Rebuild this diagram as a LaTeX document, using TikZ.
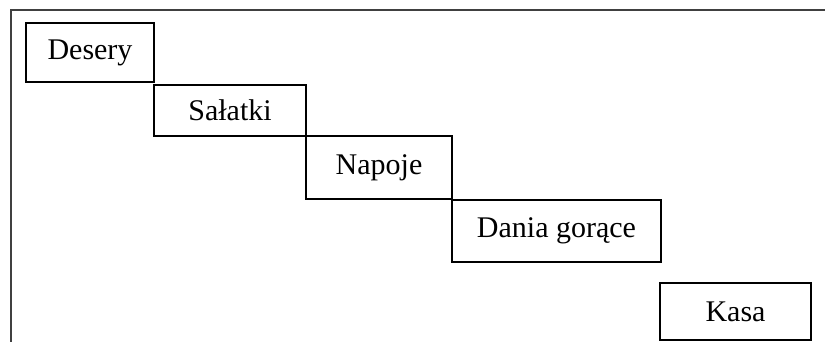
\documentclass[tikz,border=0pt]{standalone}
\usepackage{fontspec}
\setmainfont{Liberation Serif}
\begin{document}
\begin{tikzpicture}[x=1pt,y=-1pt,
  stage/.style={draw=black, line width=2pt, inner sep=0pt, outer sep=0pt,
    font=\fontsize{30}{32}\selectfont, text=black},
  frame/.style={draw=black!75, line width=1.3pt}]
\useasboundingbox (0,0) rectangle (825,342);
\draw[frame] (11,342) -- (11,10) -- (825,10);
\node[stage, minimum width=128pt, minimum height=59pt] (desery) at (90,52.5) {Desery};
\node[stage, minimum width=152pt, minimum height=51pt] (salatki) at (230,110.5) {Sałatki};
\node[stage, minimum width=146pt, minimum height=63pt] (napoje) at (379,167.5) {Napoje};
\node[stage, minimum width=209pt, minimum height=62pt] (dania) at (556.5,231) {Dania gorące};
\node[stage, minimum width=151pt, minimum height=57pt] (kasa) at (735.5,311.5) {Kasa};
\end{tikzpicture}
\end{document}
